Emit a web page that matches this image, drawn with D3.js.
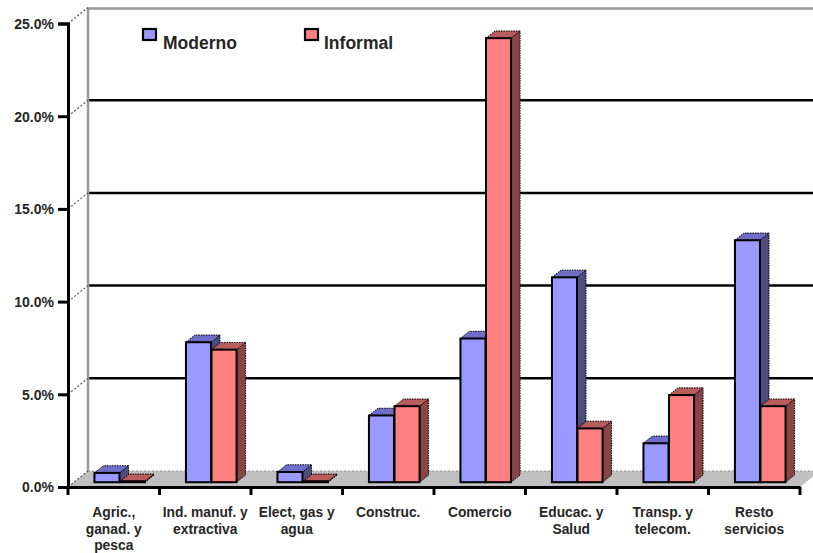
<!DOCTYPE html>
<html><head><meta charset="utf-8">
<script src="https://cdn.jsdelivr.net/npm/d3@7"></script>
<style>body{margin:0;background:#fff}svg{display:block}text{font-family:"Liberation Sans",Arial,sans-serif;font-weight:bold;fill:#262626}</style>
</head><body>
<svg id="c" width="813" height="553"></svg>
<script>
const categories = [["Agric.,","ganad. y","pesca"],["Ind. manuf. y","extractiva"],["Elect, gas y","agua"],["Construc."],["Comercio"],["Educac. y","Salud"],["Transp. y","telecom."],["Resto","servicios"]];
const seriesNames = ["Moderno","Informal"];
const moderno = [0.5, 7.55, 0.55, 3.6, 7.75, 11.05, 2.1, 13.05];
const informal = [0.05, 7.15, 0.05, 4.1, 23.95, 2.9, 4.7, 4.1];
const yTicks = [0,5,10,15,20,25];

const svg = d3.select("#c");
const DX = 20, DY = -16;
const catKeys = categories.map((c,i)=>i);
const x = d3.scaleBand().domain(catKeys).range([68,800]).padding(0);
const y = d3.scaleLinear().domain([0,25]).range([487,23.5]);
const xs = d3.scaleBand().domain(seriesNames).range([0, x.bandwidth()]).paddingOuter(0.8).paddingInner(0.02);
const colors = {
  Moderno:{front:"#9999FF", top:"#6E6EC8", side:"#4D4D80"},
  Informal:{front:"#FF8080", top:"#B85C5C", side:"#874545"}
};
const x0 = 68, x1 = 800;
const yBack = v => y(v) + DY;

// floor
svg.append("polygon").attr("points",[[x0,y(0)],[x0+DX,yBack(0)],[x1+DX,yBack(0)],[x1,y(0)]].join(" "))
  .attr("fill","#C0C0C0");
svg.append("line").attr("x1",x0+DX).attr("x2",x1+DX).attr("y1",yBack(0)).attr("y2",yBack(0))
  .attr("stroke","#888").attr("stroke-width",1).attr("stroke-dasharray","2,2");
// back wall gridlines
yTicks.filter(t=>t>0&&t<25).forEach(t=>{
  svg.append("line").attr("x1",x0+DX).attr("x2",813).attr("y1",yBack(t)).attr("y2",yBack(t))
    .attr("stroke","#000").attr("stroke-width",2.5);
});
// top edge & left wall edge
svg.append("line").attr("x1",x0+DX).attr("x2",813).attr("y1",yBack(25)+1).attr("y2",yBack(25)+1)
  .attr("stroke","#999").attr("stroke-width",2.5);
svg.append("line").attr("x1",x0+DX).attr("x2",x0+DX).attr("y1",yBack(25)).attr("y2",yBack(0))
  .attr("stroke","#999").attr("stroke-width",2.5);
// diagonal dashed links
yTicks.forEach(t=>{
  svg.append("line").attr("x1",x0).attr("y1",y(t)).attr("x2",x0+DX).attr("y2",yBack(t))
    .attr("stroke","#555").attr("stroke-width",1.2).attr("stroke-dasharray","2,2");
});

// bars
const F0 = 0.3, F1 = 0.75;
catKeys.forEach(i=>{
  seriesNames.forEach((s,k)=>{
    const v = (k===0?moderno:informal)[i];
    const c = colors[s];
    const bx = x(i) + xs(s) + DX*F0;
    const bw = xs.bandwidth();
    const yb = y(0) + DY*F0, yt = y(v) + DY*F0;
    const ddx = DX*(F1-F0), ddy = DY*(F1-F0);
    // side
    svg.append("polygon").attr("points",[[bx+bw,yb],[bx+bw+ddx,yb+ddy],[bx+bw+ddx,yt+ddy],[bx+bw,yt]].join(" "))
      .attr("fill",c.side).attr("stroke","#000").attr("stroke-width",1).attr("stroke-dasharray","1.5,1");
    // top
    svg.append("polygon").attr("points",[[bx,yt],[bx+ddx,yt+ddy],[bx+bw+ddx,yt+ddy],[bx+bw,yt]].join(" "))
      .attr("fill",c.top).attr("stroke","#000").attr("stroke-width",1).attr("stroke-dasharray","1.5,1");
    // front
    svg.append("rect").attr("x",bx).attr("y",yt).attr("width",bw).attr("height",Math.max(yb-yt,0.5))
      .attr("fill",c.front).attr("stroke","#000").attr("stroke-width",2);
  });
});

// axes
const yAxis = d3.axisLeft(y).tickValues(yTicks).tickSize(10).tickPadding(4).tickFormat(d=>d.toFixed(1)+"%");
const gy = svg.append("g").attr("transform",`translate(${x0},0)`).call(yAxis);
gy.select(".domain").attr("stroke","#000").attr("stroke-width",3);
gy.selectAll(".tick line").attr("stroke","#000").attr("stroke-width",3);
gy.selectAll(".tick text").attr("font-size",14).attr("dy","0.35em").attr("fill","#262626")
  .attr("font-family","Liberation Sans, Arial, sans-serif").attr("font-weight","bold");

const xAxis = d3.axisBottom(x).tickSize(0).tickFormat("");
const gx = svg.append("g").attr("transform",`translate(0,${y(0)})`).call(xAxis);
gx.select(".domain").attr("stroke","#000").attr("stroke-width",3);
// boundary ticks
const bounds = catKeys.map(i=>x(i)).concat([x1]);
svg.append("g").selectAll("line").data(bounds).join("line")
  .attr("x1",d=>d).attr("x2",d=>d).attr("y1",y(0)).attr("y2",y(0)+8)
  .attr("stroke","#000").attr("stroke-width",3);

// category labels
catKeys.forEach(i=>{
  const t = svg.append("text").attr("x",x(i)+x.bandwidth()/2).attr("y",517)
    .attr("text-anchor","middle").attr("font-size",13.8);
  categories[i].forEach((ln,j)=>{
    t.append("tspan").attr("x",x(i)+x.bandwidth()/2).attr("y",517+j*16.5).text(ln);
  });
});

// legend
const leg = [{name:"Moderno",bx:143,tx:163},{name:"Informal",bx:305,tx:324}];
leg.forEach(l=>{
  svg.append("rect").attr("x",l.bx).attr("y",29).attr("width",13).attr("height",11)
    .attr("fill",colors[l.name].front).attr("stroke","#000").attr("stroke-width",2.2);
  svg.append("text").attr("x",l.tx).attr("y",49).attr("font-size",17.5).text(l.name);
});
</script>
</body></html>
